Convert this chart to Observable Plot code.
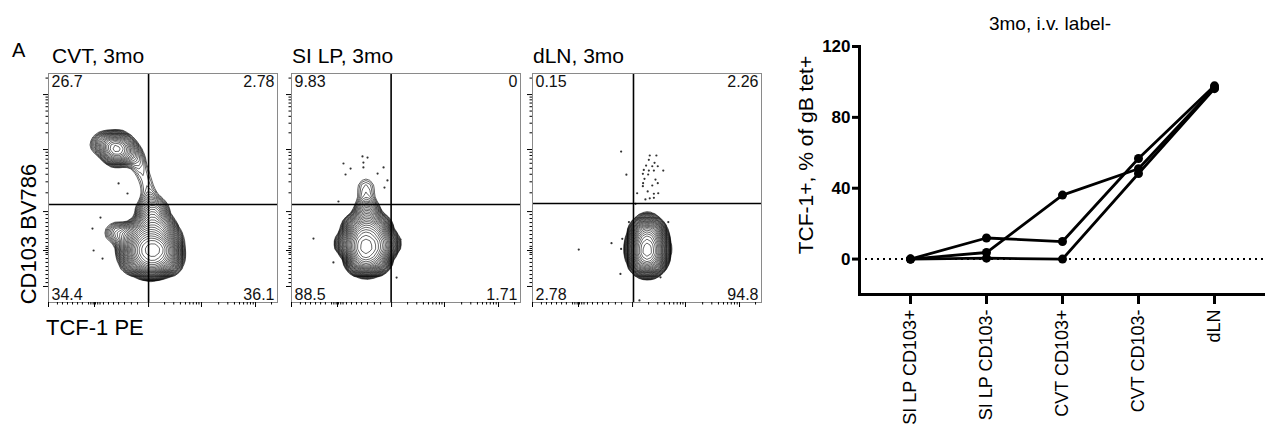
<!DOCTYPE html>
<html>
<head>
<meta charset="utf-8">
<script src="https://cdn.jsdelivr.net/npm/d3@7"></script>
<script src="https://cdn.jsdelivr.net/npm/@observablehq/plot@0.6"></script>
<style>
html, body { margin: 0; padding: 0; background: #fff; }
body { width: 1265px; height: 430px; position: relative; overflow: hidden; font-family: "Liberation Sans", Arial, Helvetica, sans-serif; color: #000; }
.pos { position: absolute; }
svg { overflow: visible; }
</style>
</head>
<body>
<script>
// ---------------- DATA ----------------
// Right panel: TCF-1+ (% of gB tet+) per tissue, one line per mouse
const groups = ["SI LP CD103+", "SI LP CD103-", "CVT CD103+", "CVT CD103-", "dLN"];
const mouse1 = [0, 11.9, 9.9, 56.8, 97.8];
const mouse2 = [0, 3.7, 36.1, 51.0, 96.8];
const mouse3 = [0, 0.5, 0, 48.3, 96.2];
const yTicks = [0, 40, 80, 120];
const lineTitle = "3mo, i.v. label-";
const lineYLabel = "TCF-1+, % of gB tet+";

// Left flow panels (display channel units 0-100 on both axes)
const panelTitles = ["CVT, 3mo", "SI LP, 3mo", "dLN, 3mo"];
const cvtQuad = ["26.7", "2.78", "34.4", "36.1"];   // UL, UR, LL, LR
const silpQuad = ["9.83", "0", "88.5", "1.71"];
const dlnQuad = ["0.15", "2.26", "2.78", "94.8"];
const cvtGate = [43.7, 42.8];
const silpGate = [43.5, 42.8];
const dlnGate = [44.1, 43.2];
// population density cells [x, y, weight]
const cvtCells = [
  [45.4,23,7],[42,26,5],[48.5,26,5],[42,20,5],[48.5,20,5],[45,30,4],[45,17,4],[39,23,3.5],[51.5,23,3.5],
  [40,31,2.5],[50,32,2.5],[45,36,2],[39.5,17.5,2],[50.5,17,2],[45,14,1],[35,23,1.5],[54,21,1.2],
  [35,29,1],[30,31,0.5],[27,30,0.25],[46,41,0.8],[42,40,0.6],[49,40,0.5],[55,28,0.6],[35,17,0.5],[55,16,0.3],
  [29.7,67.2,2.2],[26.5,68.5,1.2],[33,67,1.2],[29.5,64,1],[23,70,0.5],[36.5,65,0.6],[31,71,0.6],[39,61,0.38],[41.5,56,0.3],[43,51,0.27],[44,46,0.34],[20,68,0.2]];
const silpCells = [
  [33.2,25,7],[30,28,5],[36.5,28,5],[30,21.5,5],[36.5,21.5,5],[33,32,4],[33,18.5,4],[27,25,3],[39.5,25,3],
  [28,33,2],[38,33,2],[33,37,2],[28.5,18,1.6],[38,18,1.6],[33,15.5,1],[24,26,1],[42.5,26,1],[33,41,0.7],
  [32.5,46,0.25],[30.5,50,0.14],[35,50,0.14],[32.5,53,0.18]];
const dlnCells = [
  [50.2,23.6,7],[48,26.5,5],[52.5,26.5,5],[48,20.5,5],[52.5,20.5,5],[50.2,30,4],[50.2,17.5,4],[46.5,23.5,2.5],[54,23.5,2.5],
  [47.5,31,2],[53,31,2],[47.5,17,1.5],[53,17,1.5],[50.2,35,1],[50.2,15,0.6]];
// individual outlying events [x, y]
const cvtEvents = [[30.6,52.0],[34.5,47.6],[22.7,37.1],[19.2,32.3],[19.7,22.7],[23.6,19.2]];
const silpEvents = [[31.0,63.8],[33.2,63.3],[22.7,60.7],[25.8,58.5],[31.4,61.1],[31.4,59.0],[23.6,55.9],[40.2,59.0],[37.6,56.3],[41.9,53.3],[40.6,50.2],[20.5,44.1],[9.6,27.9],[18.3,17.5],[47.6,27.5],[45.9,10.9],[33.2,10.5]];
const dlnEvents = [[51.2,64.2],[54.1,64.2],[50.8,62.3],[53.3,61.0],[49.6,59.8],[52.3,59.5],[54.7,59.5],[48.6,57.9],[50.8,57.6],[53.0,57.6],[48.2,56.2],[50.5,55.9],[57.1,57.6],[48.9,54.0],[53.7,53.7],[54.7,52.1],[48.3,52.1],[48.2,50.8],[52.3,51.1],[50.3,48.5],[53.0,47.5],[54.9,47.7],[45.7,47.7],[51.2,45.5],[49.3,45.0],[53.0,45.7],[45.0,43.1],[38.7,65.9],[41.0,55.8],[20.2,23.1],[34.5,25.9],[38.4,12.5],[38.7,23.4],[39.2,27.8],[46.7,0.9],[59.3,35.1],[42.1,35.1],[55.9,11.0]];
// flow axis ticks (channel units)
const flowMajorX = [0, 20.1, 43.7, 66.8, 90.4];
const flowMinorX = [3.9, 6.1, 8.3, 10.5, 12.7, 14.8, 17.5, 18.5, 19.5, 20.5, 21.5, 22.5, 24.0, 26.2, 28.4, 30.6, 33.2, 36.2, 38.9, 50.7, 54.7, 57.6, 59.8, 61.7, 63.2, 64.6, 65.7, 74.3, 78.3, 81.2, 83.4, 85.2, 86.8, 88.2, 89.4, 97.4];
const flowMajorY = [7.0, 22.7, 39.7, 66.8, 90.8];
const flowMinorY = [8.7, 10.5, 12.2, 14.0, 15.7, 17.5, 19.2, 21.0, 21.8, 23.6, 24.5, 26.2, 27.9, 29.7, 31.4, 33.2, 34.9, 36.7, 38.4, 47.9, 52.7, 56.0, 58.6, 60.8, 62.6, 64.2, 65.6, 74.1, 78.3, 81.3, 83.6, 85.5, 87.1, 88.5, 89.7, 98.0];
const flowXLabel = "TCF-1 PE";
const flowYLabel = "CD103 BV786";
const figLetter = "A";

// ---------------- RENDER ----------------
const FONT = '"Liberation Sans", Arial, Helvetica, sans-serif';
function place(el, left, top) {
  el.classList.add("pos");
  el.style.left = left + "px";
  el.style.top = top + "px";
  document.body.appendChild(el);
}

const PW = 236, PH = 236, ML = 6, MR = 1, MT = 1, MB = 6, BW = 5;

// log-spaced contour levels relative to the panel's own peak density
function levelsFor(cells) {
  const sx = d3.scaleLinear([0, 100], [ML, PW - MR]);
  const sy = d3.scaleLinear([0, 100], [PH - MB, MT]);
  const peak = d3.contourDensity()
    .x(d => sx(d[0])).y(d => sy(d[1])).weight(d => d[2])
    .size([PW, PH]).bandwidth(BW)
    .contours(cells).max * 256;
  return Float64Array.from({length: 36}, (_, k) => peak * 0.007 * Math.pow(1.15, k));
}

function flowPanel(cells, events, gate, quad) {
  const q = (t, anchor, dx, dy) => Plot.text([t], {text: d => d, frameAnchor: anchor, dx, dy, fontSize: 16, fill: "#111"});
  const noText = {fill: "none", tickFormat: () => "", label: null, strokeWidth: 1};
  return Plot.plot({
    width: PW, height: PH,
    marginLeft: ML, marginRight: MR, marginTop: MT, marginBottom: MB,
    style: {fontFamily: FONT, background: "transparent", color: "#000"},
    x: {domain: [0, 100]},
    y: {domain: [0, 100]},
    marks: [
      Plot.density(cells, {x: d => d[0], y: d => d[1], weight: d => d[2], bandwidth: BW, thresholds: levelsFor(cells), stroke: "#000", strokeWidth: 0.6}),
      Plot.dot(events, {x: d => d[0], y: d => d[1], r: 1.1, fill: "#333", stroke: "none"}),
      Plot.ruleX([gate[0]], {stroke: "#000", strokeWidth: 1.6}),
      Plot.ruleY([gate[1]], {stroke: "#000", strokeWidth: 1.6}),
      Plot.frame({stroke: "#8a8a8a", strokeWidth: 1}),
      Plot.axisX(flowMajorX, {anchor: "bottom", tickSize: 5, ...noText}),
      Plot.axisX(flowMinorX, {anchor: "bottom", tickSize: 2.5, ...noText}),
      Plot.axisY(flowMajorY, {anchor: "left", tickSize: 5, ...noText}),
      Plot.axisY(flowMinorY, {anchor: "left", tickSize: 2.5, ...noText}),
      q(quad[0], "top-left", 3, 2),
      q(quad[1], "top-right", -3, 2),
      q(quad[2], "bottom-left", 3, -3),
      q(quad[3], "bottom-right", -3, -3)
    ]
  });
}

place(flowPanel(cvtCells, cvtEvents, cvtGate, cvtQuad), 42, 72);
place(flowPanel(silpCells, silpEvents, silpGate, silpQuad), 285, 72);
place(flowPanel(dlnCells, dlnEvents, dlnGate, dlnQuad), 526, 72);

// right panel
const rows = [];
[mouse1, mouse2, mouse3].forEach((arr, m) => arr.forEach((v, i) => rows.push({mouse: m, group: groups[i], value: v})));
const lineChart = Plot.plot({
  width: 485, height: 430,
  marginLeft: 79, marginRight: 0, marginTop: 46, marginBottom: 136,
  style: {fontFamily: FONT, background: "transparent", color: "#000"},
  x: {type: "point", domain: groups, padding: 0.66},
  y: {domain: [-20, 120]},
  marks: [
    Plot.ruleY([0], {strokeDasharray: "2,4", strokeWidth: 2, stroke: "#000"}),
    Plot.frame({anchor: "left", strokeWidth: 3, stroke: "#000"}),
    Plot.frame({anchor: "bottom", strokeWidth: 3, stroke: "#000"}),
    Plot.axisY(yTicks, {anchor: "left", tickSize: 7, strokeWidth: 3, fontSize: 17, fontWeight: "bold", tickPadding: 2, label: null}),
    Plot.axisX(groups, {anchor: "bottom", tickSize: 10, strokeWidth: 3, tickRotate: -90, fontSize: 18, tickPadding: 5, label: null}),
    Plot.line(rows, {x: "group", y: "value", z: "mouse", stroke: "#000", strokeWidth: 2.8}),
    Plot.dot(rows, {x: "group", y: "value", r: 4.5, fill: "#000", stroke: "none"})
  ]
});
place(lineChart, 780, 0);

// text labels overlay
const ns = "http://www.w3.org/2000/svg";
const ov = document.createElementNS(ns, "svg");
ov.setAttribute("width", 1265); ov.setAttribute("height", 430);
ov.style.pointerEvents = "none";
ov.setAttribute("font-family", FONT);
function txt(s, x, y, size, opts = {}) {
  const t = document.createElementNS(ns, "text");
  t.textContent = s;
  t.setAttribute("x", x); t.setAttribute("y", y);
  t.setAttribute("font-size", size);
  t.setAttribute("fill", "#000");
  if (opts.anchor) t.setAttribute("text-anchor", opts.anchor);
  if (opts.rotate) t.setAttribute("transform", `rotate(${opts.rotate} ${x} ${y})`);
  ov.appendChild(t);
}
txt(figLetter, 12, 57, 20);
txt(panelTitles[0], 52, 63, 21);
txt(panelTitles[1], 292, 63, 21);
txt(panelTitles[2], 533, 63, 21);
txt(flowXLabel, 46, 335, 22);
txt(flowYLabel, 36, 234, 22, {anchor: "middle", rotate: -90});
txt(lineTitle, 1050, 30, 19, {anchor: "middle"});
txt(lineYLabel, 813, 155, 21, {anchor: "middle", rotate: -90});
place(ov, 0, 0);
</script>
</body>
</html>
